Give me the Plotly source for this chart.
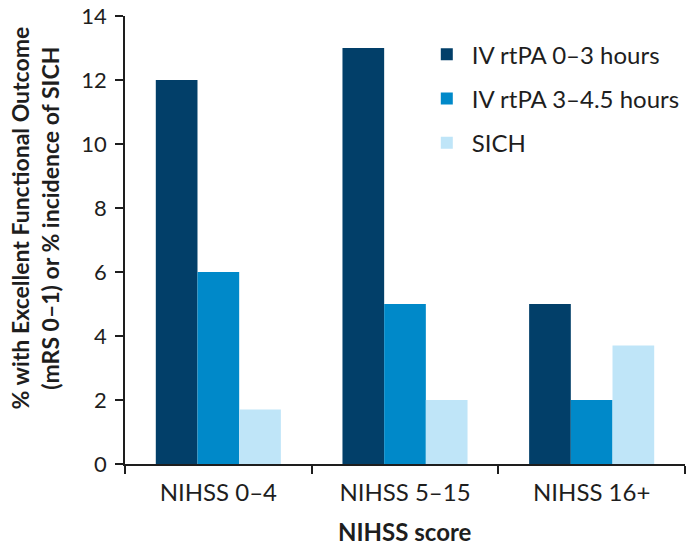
import plotly.graph_objects as go

categories = ["NIHSS 0–4", "NIHSS 5–15", "NIHSS 16+"]
series_names = ["IV rtPA 0–3 hours", "IV rtPA 3–4.5 hours", "SICH"]
rtpa_0_3 = [12, 13, 5]
rtpa_3_45 = [6, 5, 2]
sich = [1.7, 2, 3.7]
y_ticks = [0, 2, 4, 6, 8, 10, 12, 14]

colors = ["#023f69", "#0089c9", "#bfe5f8"]
FONT = "Lato"
TXT = "#1e1e1e"

fig = go.Figure()
for i, (name, vals) in enumerate(zip(series_names, [rtpa_0_3, rtpa_3_45, sich])):
    fig.add_trace(go.Bar(x=categories, y=vals, name=name, marker_color=colors[i],
                         marker_line_width=0, legendgroup=f"g{i}"))

fig.update_layout(
    width=689, height=548,
    margin=dict(l=125, r=4, t=16, b=84, autoexpand=False),
    plot_bgcolor="white", paper_bgcolor="white",
    barmode="group", bargap=0.33, bargroupgap=0,
    font=dict(family=FONT, color=TXT, size=22),
    showlegend=True,
    legend=dict(x=0.53, y=0.964, xanchor="left", yanchor="top",
                font=dict(size=24, family=FONT, color=TXT),
                tracegroupgap=10, itemwidth=40, bgcolor="rgba(0,0,0,0)"),
    xaxis=dict(showline=True, linecolor=TXT, linewidth=1.8,
               ticks="outside", ticklen=8, tickcolor=TXT, tickwidth=1.5,
               tickson="boundaries", automargin=False, ticklabelstandoff=6,
               ticklabeloverflow="allow",
               tickfont=dict(size=24, family=FONT, color=TXT)),
    yaxis=dict(range=[0, 14], tickvals=y_ticks, showgrid=False, zeroline=False,
               showline=True, linecolor=TXT, linewidth=1.8, automargin=False,
               ticks="outside", ticklen=8, tickcolor=TXT, tickwidth=1.5,
               ticklabelstandoff=4, ticklabeloverflow="allow",
               tickfont=dict(size=22, family=FONT, color=TXT)),
    annotations=[
        dict(text="<b>% with Excellent Functional Outcome<br>(mRS 0–1) or % incidence of SICH</b>",
             xref="paper", yref="paper", x=-0.16, y=0.549, xanchor="center", yanchor="middle",
             textangle=-90, showarrow=False, align="center",
             font=dict(size=23, family=FONT, color=TXT)),
        dict(text="<b>NIHSS score</b>", xref="paper", yref="paper", x=0.5, y=-0.15,
             xanchor="center", yanchor="middle", showarrow=False,
             font=dict(size=24, family=FONT, color=TXT)),
    ],
)

# remove the page's default 8px body margin so the figure fills the window exactly
fig.write_html("out.html", config={"displayModeBar": False},
               post_script="document.body.style.margin='0';document.body.style.overflow='hidden';")
